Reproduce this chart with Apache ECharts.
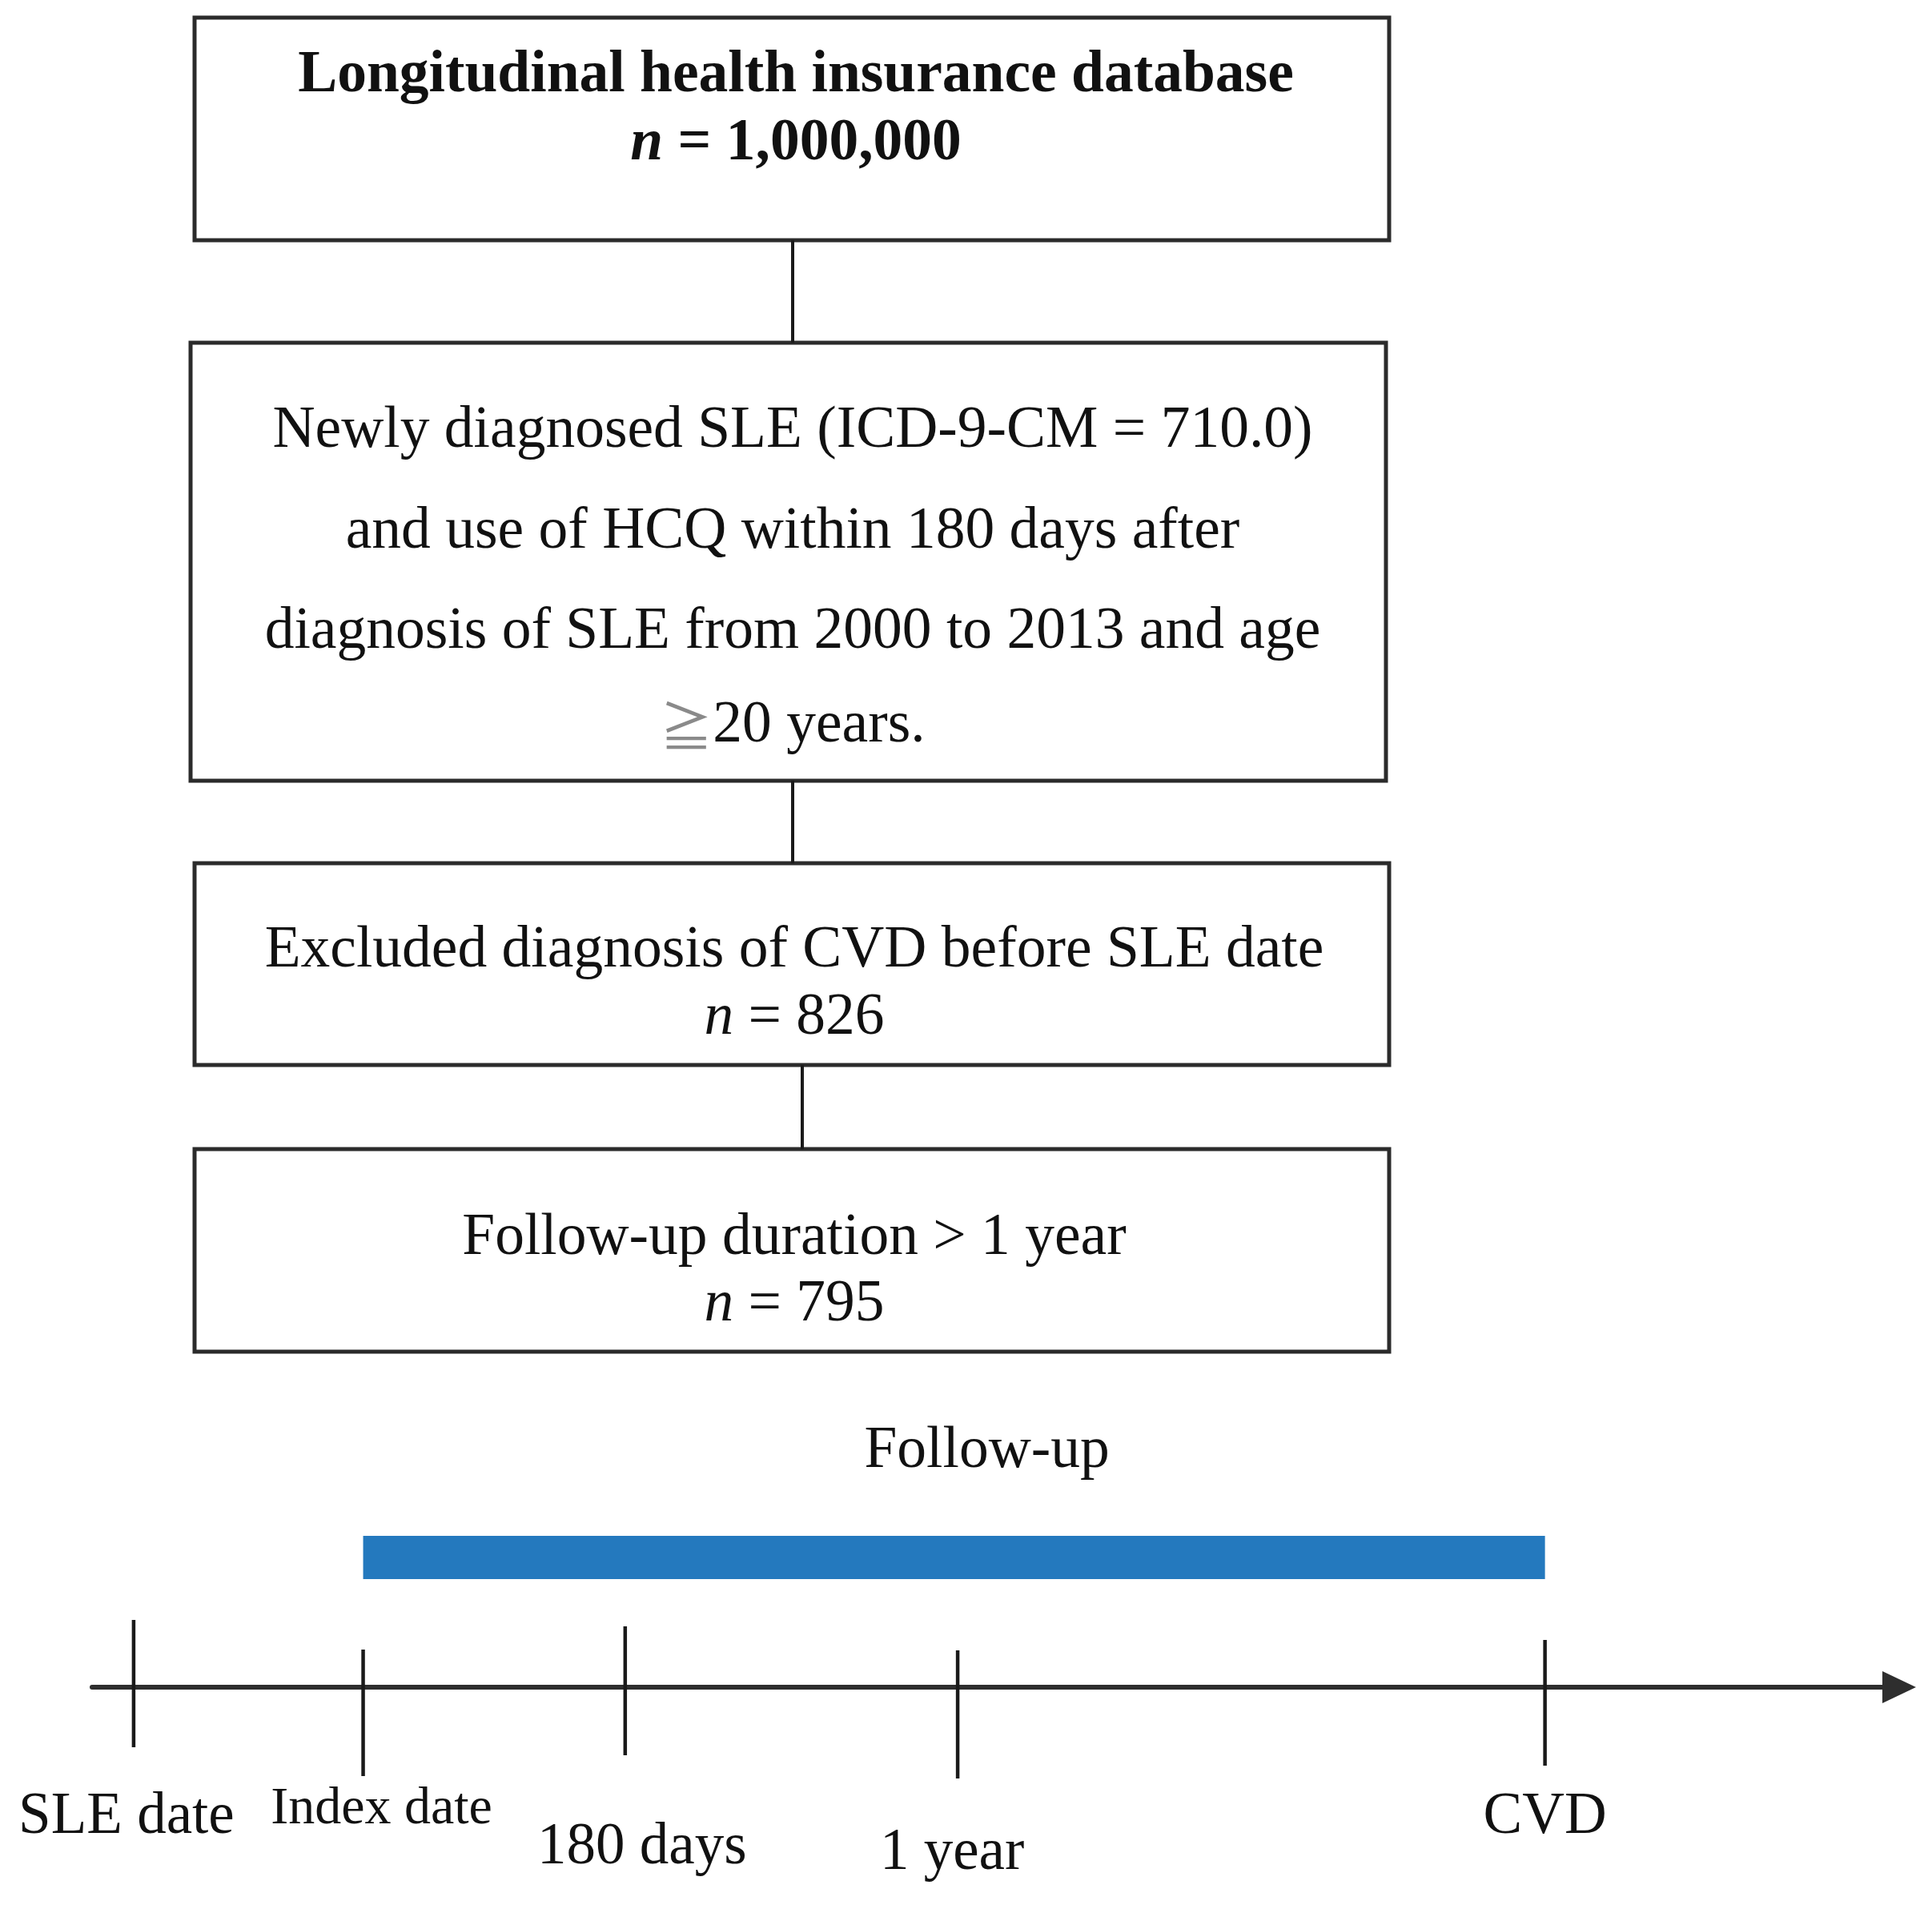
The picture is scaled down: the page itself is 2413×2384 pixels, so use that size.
<!DOCTYPE html>
<html>
<head>
<meta charset="utf-8">
<script src="https://cdn.jsdelivr.net/npm/echarts@6/dist/echarts.min.js"></script>
<style>
html,body{margin:0;padding:0;background:#fff;}
#main{width:2413px;height:2384px;}
</style>
</head>
<body>
<div id="main"></div>
<script>
// 流程图每一步的文字
var stepLines = [
    ['Longitudinal health insurance database'],
    ['Newly diagnosed SLE (ICD-9-CM = 710.0)', 'and use of HCQ within 180 days after', 'diagnosis of SLE from 2000 to 2013 and age', '{g|\u2267}20 years.'],
    ['Excluded diagnosis of CVD before SLE date'],
    ['Follow-up duration > 1 year']
];
var stepCounts = ['1,000,000', null, '826', '795'];

// 时间轴 (示意, 不按比例)
var eventNames = ['SLE date', 'Index date', '180 days', '1 year', 'CVD'];
var eventPos = [2.3, 15, 29.5, 47.9, 80.4];
var followUpName = 'Follow-up';
var followUpSpan = ['Index date', 'CVD'];

// 版面 (像素, 与数据分开)
var FONT = "'Liberation Serif', 'Times New Roman', 'Noto Sans CJK SC', serif";
var FS = 73.5;
var boxLayout = [
    {x0: 243, x1: 1735, y0: 22, y1: 300, cx: 994, base: [120, 205]},
    {x0: 238, x1: 1731, y0: 428, y1: 975, cx: 990, base: [564, 690, 815, 932]},
    {x0: 243, x1: 1735, y0: 1078, y1: 1330, cx: 992, base: [1213, 1297]},
    {x0: 243, x1: 1735, y0: 1435, y1: 1688, cx: 992, base: [1572, 1655]}
];
var linkX = [990, 990, 1002];
var tickReach = [[84, 75], [47, 111], [76, 85], [46, 114], [59, 98]];
var labelShift = [[-9, 188, 73], [23, 175, 66], [21, 226, 73], [-7, 233, 73], [0, 188, 73]];

var myChart = echarts.init(document.getElementById('main'));

function renderStep(params, api) {
    var i = params.dataIndex;
    var b = boxLayout[i];
    var p0 = api.coord([b.x0, b.y0]);
    var p1 = api.coord([b.x1, b.y1]);
    var bold = i === 0;
    var children = [];
    children.push({
        type: 'rect',
        shape: {x: p0[0], y: p0[1], width: p1[0] - p0[0], height: p1[1] - p0[1]},
        style: {fill: '#fff', stroke: '#2b2b2b', lineWidth: 5}
    });
    var lines = stepLines[i].slice();
    if (stepCounts[i]) lines.push('{i|n} = ' + stepCounts[i]);
    lines.forEach(function (t, k) {
        var c = api.coord([b.cx, b.base[k] - 25]);
        children.push({
            type: 'text',
            x: c[0], y: c[1],
            style: {
                text: t, fill: '#111', fontSize: FS, fontFamily: FONT,
                fontWeight: bold ? 'bold' : 'normal',
                align: 'center', verticalAlign: 'middle',
                rich: {
                    i: {fontStyle: 'italic', fontSize: FS, fontFamily: FONT, fontWeight: bold ? 'bold' : 'normal', fill: '#111'},
                    g: {fontSize: 66, fontFamily: "'Noto Sans CJK SC', sans-serif", fill: '#8a8a8a'}
                }
            }
        });
    });
    // 连接线
    if (i > 0) {
        var a = api.coord([linkX[i - 1], boxLayout[i - 1].y1]);
        var z = api.coord([linkX[i - 1], b.y0]);
        children.push({
            type: 'line',
            shape: {x1: a[0], y1: a[1], x2: z[0], y2: z[1]},
            style: {stroke: '#1a1a1a', lineWidth: 4}
        });
    }
    return {type: 'group', children: children};
}

function renderEvent(params, api) {
    var i = params.dataIndex;
    var p = api.coord([api.value(0), 0]);
    var r = tickReach[i];
    var s = labelShift[i];
    return {
        type: 'group',
        children: [{
            type: 'line',
            shape: {x1: p[0], y1: p[1] - r[0], x2: p[0], y2: p[1] + r[1]},
            style: {stroke: '#1a1a1a', lineWidth: 4.5}
        }, {
            type: 'text',
            x: p[0] + s[0], y: p[1] + s[1] - Math.round(s[2] * 0.34),
            style: {
                text: eventNames[i], fill: '#111', fontSize: s[2], fontFamily: FONT,
                align: 'center', verticalAlign: 'middle'
            }
        }]
    };
}

function renderFollowUp(params, api) {
    var a = api.coord([api.value(0), 0]);
    var z = api.coord([api.value(1), 0]);
    return {
        type: 'group',
        children: [{
            type: 'rect',
            shape: {x: a[0], y: a[1] - 189, width: z[0] - a[0], height: 54},
            style: {fill: '#2479be'}
        }, {
            type: 'text',
            x: (a[0] + z[0]) / 2 + 41, y: a[1] - 294,
            style: {
                text: followUpName, fill: '#111', fontSize: FS, fontFamily: FONT,
                align: 'center', verticalAlign: 'middle'
            }
        }]
    };
}

var option = {
    backgroundColor: '#fff',
    animation: false,
    grid: [
        {left: 0, top: 0, width: 2413, height: 2384},
        {left: 115, right: 41, top: 1880, bottom: 277}
    ],
    xAxis: [
        {gridIndex: 0, type: 'value', min: 0, max: 2413, show: false},
        {
            gridIndex: 1, type: 'value', min: 0, max: 100,
            axisLine: {
                show: true, symbol: ['none', 'triangle'], symbolSize: [40, 42],
                lineStyle: {color: '#2e2e2e', width: 6}
            },
            axisTick: {show: false},
            axisLabel: {show: false},
            splitLine: {show: false}
        }
    ],
    yAxis: [
        {gridIndex: 0, type: 'value', min: 0, max: 2384, inverse: true, show: false},
        {gridIndex: 1, type: 'value', min: 0, max: 1, show: false}
    ],
    series: [
        {
            name: 'steps',
            type: 'custom',
            xAxisIndex: 0, yAxisIndex: 0,
            renderItem: renderStep,
            data: stepLines.map(function (l, i) { return [0, 0, i]; })
        },
        {
            name: 'follow-up',
            type: 'custom',
            xAxisIndex: 1, yAxisIndex: 1,
            renderItem: renderFollowUp,
            data: [[eventPos[eventNames.indexOf(followUpSpan[0])], eventPos[eventNames.indexOf(followUpSpan[1])]]]
        },
        {
            name: 'events',
            type: 'custom',
            xAxisIndex: 1, yAxisIndex: 1,
            renderItem: renderEvent,
            data: eventPos.map(function (p) { return [p, 0]; })
        }
    ]
};
myChart.setOption(option);
window.onresize = function () {
    myChart.resize();
};
</script>
</body>
</html>
